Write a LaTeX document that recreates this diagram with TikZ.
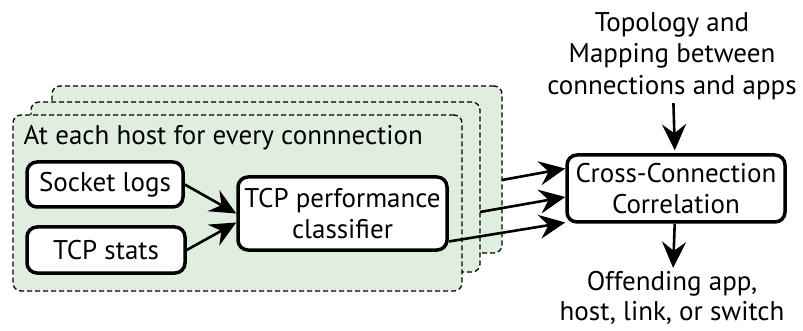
\documentclass[tikz,border=0pt]{standalone}
\usepackage{fontspec}
\setmainfont{PT Sans}
\usetikzlibrary{arrows.meta,positioning,calc}
\definecolor{PanelColor}{RGB}{224,238,224}

\begin{document}
\begin{tikzpicture}[x=1pt,y=-1pt,
  every node/.style={align=center,font=\fontsize{27}{31.5}\selectfont},
  box/.style={draw,line width=3.5pt,rounded corners=10pt,fill=white,inner sep=0pt},
  panel/.style={draw,line width=1.3pt,dash pattern=on 5pt off 3pt,rounded corners=8pt,fill=PanelColor,inner sep=0pt},
  arr/.style={-{Stealth[length=26pt,width=24pt,inset=9pt]},line width=2.6pt}]
\useasboundingbox (0,0) rectangle (803,331);
% stacked hosts
\node[panel,minimum width=450pt,minimum height=167pt] (back) at (277,169.5) {};
\node[panel,minimum width=449pt,minimum height=170pt] (mid) at (255.5,187) {};
\node[panel,minimum width=449pt,minimum height=176pt] (front) at (237.5,203) {};
\node[anchor=west] (title) at (20,138) {At each host for every connnection};
\node[box,minimum width=156pt,minimum height=45pt] (sock) at (105,184.5) {Socket logs};
\node[box,minimum width=158pt,minimum height=46pt] (stats) at (106,250) {TCP stats};
\node[box,minimum width=209pt,minimum height=73pt] (cls) at (342.5,213.5) {TCP performance\\classifier};
% correlation side
\node[box,minimum width=218pt,minimum height=67pt] (corr) at (676,188.5) {Cross-Connection\\Correlation};
\node (topo) at (672,56) {Topology and\\Mapping between\\connections and apps};
\node[font=\fontsize{27}{30}\selectfont] (out) at (672,298) {Offending app,\\host, link, or switch};
\coordinate (backout) at (502,180);
\coordinate (midout) at (480,212);
\draw[arr] (sock.east) -- (cls.west);
\draw[arr] (stats.east) -- ([yshift=-9pt]cls.west);
\draw[arr] (backout) -- ([yshift=20pt]corr.west);
\draw[arr] (midout) -- ([yshift=-8.5pt]corr.west);
\draw[arr] ([yshift=-28pt]cls.east) -- ([yshift=-34pt]corr.west);
\draw[arr,shorten >=3pt] (topo) -- (corr);
\draw[arr] (corr) -- (out);
\end{tikzpicture}
\end{document}
